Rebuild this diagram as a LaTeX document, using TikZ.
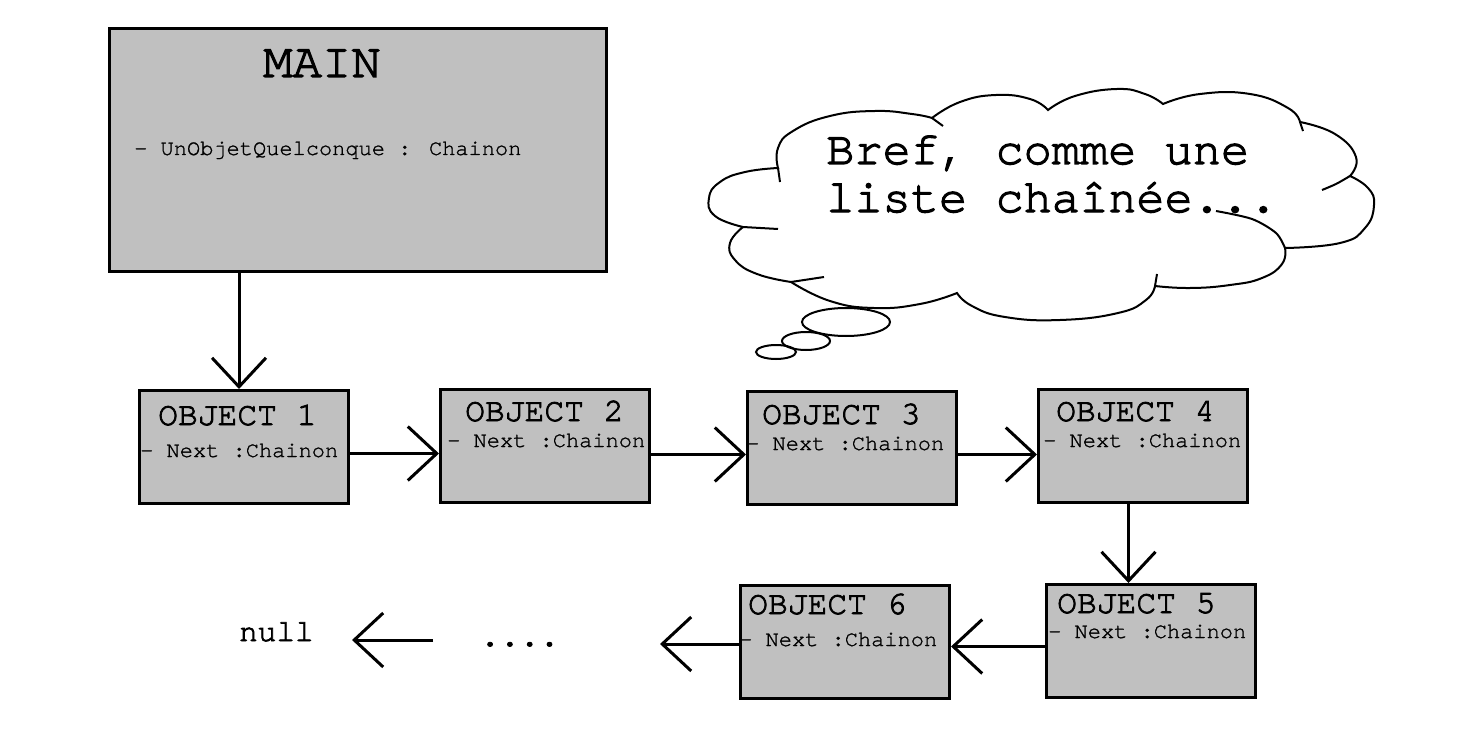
\documentclass[tikz,border=0pt]{standalone}
\usepackage{fontspec}
\newfontfamily\pixfont[FakeBold=1.2]{texgyrecursor-regular.otf}
\newfontfamily\pixbold[FakeBold=2.5]{texgyrecursor-regular.otf}
\usetikzlibrary{arrows.meta}
\definecolor{boxgray}{RGB}{192,192,192}
\tikzset{
  objbox/.style={draw, fill=boxgray, line width=3pt, anchor=north west,
    minimum width=209pt, minimum height=113pt, inner sep=0pt},
  txt/.style={anchor=base west, inner sep=0pt},
  titlefont/.style={font=\pixbold\fontsize{33}{33}\selectfont},
  attrfont/.style={font=\pixfont\fontsize{22}{22}\selectfont},
  link/.style={line width=3pt, -{Straight Barb[length=29pt,width=54pt]}},
  cloudline/.style={line width=2pt}
}

\begin{document}
\begin{tikzpicture}[x=1pt,y=-1pt]
  \useasboundingbox (0,0) rectangle (1477,754);

  % the main class
  \node[objbox, minimum width=497pt, minimum height=243pt] (main) at (108,27) {};
  \node[txt, font=\pixbold\fontsize{49}{49}\selectfont] (main-name)
    at ([shift={(155,50)}]main.north west) {MAIN};
  \node[txt, attrfont] (main-attr)
    at ([shift={(26,128)}]main.north west) {- UnObjetQuelconque : Chainon};

  % the chain
  \foreach \n/\x/\y/\tx/\ty/\nx/\ny in {1/138/389/20/36/2/68, 2/439/388/26/33/8/59,
      3/746/390/16/34/0/60, 4/1037/388/19/33/6/59, 5/1045/583/12/30/3/55,
      6/739/584/9/30/0/62} {
    \node[objbox] (o\n) at (\x,\y) {};
    \node[txt, titlefont] (o\n-name) at ([shift={(\tx,\ty)}]o\n.north west) {OBJECT \n};
    \node[txt, attrfont] (o\n-next) at ([shift={(\nx,\ny)}]o\n.north west) {- Next :Chainon};
  }

  \node[txt, font=\pixbold\fontsize{31}{31}\selectfont] (null) at (239,641) {null};
  \node[txt, titlefont] (dots) at (480,646) {....};
  \coordinate (dots-in) at (660,644);
  \coordinate (dots-out) at (433,640);
  \coordinate (null-in) at (352,640);

  % links
  \coordinate (o1-in) at ([xshift=-5pt]o1.north);
  \draw[link] (o1-in |- main.south) -- (o1-in);
  \draw[link, transform canvas={yshift=-6.5pt}] (o1.east) -- (o1.east -| o2.west);
  \draw[link, transform canvas={yshift=-8.5pt}] (o2.east) -- (o2.east -| o3.west);
  \draw[link, transform canvas={yshift=-6.5pt}] (o3.east) -- (o3.east -| o4.west);
  \draw[link, transform canvas={xshift=-14.5pt}] (o4.south) -- (o4.south |- o5.north);
  \draw[link, transform canvas={yshift=-5.5pt}] (o5.west) -- (o5.west -| o6.east);
  \draw[link] (dots-in -| o6.west) -- (dots-in);
  \draw[link] (dots-out) -- (null-in);

  % thought cloud
  \draw[cloudline, fill=white]
    plot[smooth, tension=0.8] coordinates {(743,227) (715,216) (709,198) (720,182) (745,172) (778,168)}
    -- plot[smooth, tension=0.8] coordinates {(778,168) (778,148) (793,131) (830,116) (875,111) (912,114) (932,118)}
    -- plot[smooth, tension=0.8] coordinates {(932,118) (960,102) (996,95) (1030,99) (1048,110)}
    -- plot[smooth, tension=0.8] coordinates {(1048,110) (1075,96) (1117,89) (1145,94) (1163,104)}
    -- plot[smooth, tension=0.8] coordinates {(1163,104) (1200,94) (1250,94) (1288,108) (1300,122)}
    -- plot[smooth, tension=0.8] coordinates {(1300,122) (1335,134) (1356,157) (1350,176)}
    -- plot[smooth, tension=0.8] coordinates {(1350,176) (1368,188) (1374,205) (1365,228) (1340,243) (1285,248)}
    -- plot[smooth, tension=0.8] coordinates {(1285,248) (1282,264) (1262,278) (1230,285) (1190,288) (1155,286)}
    -- plot[smooth, tension=0.8] coordinates {(1155,286) (1146,300) (1118,313) (1060,320) (1005,317) (972,306) (957,293)}
    -- plot[smooth, tension=0.8] coordinates {(957,293) (920,304) (874,308) (830,301) (791,282)}
    -- plot[smooth, tension=0.8] coordinates {(791,282) (757,274) (735,260) (730,243) (743,227)}
    -- cycle;
  % puff ends that run on inside
  \draw[cloudline] (778,168) -- (780,182);
  \draw[cloudline] (932,118) -- (943,126);
  \draw[cloudline] (1300,122) -- (1303,131);
  \draw[cloudline] plot[smooth] coordinates {(1350,176) (1336,184) (1322,190)};
  \draw[cloudline] plot[smooth] coordinates {(1216,211) (1252,219) (1276,233) (1285,248)};
  \draw[cloudline] (1155,286) -- (1157,274);
  \draw[cloudline] (791,282) -- (824,277);
  \draw[cloudline] (743,227) -- (778,229);
  \draw[cloudline] (846,322) ellipse [x radius=44pt, y radius=14pt];
  \draw[cloudline] (806,341) ellipse [x radius=24pt, y radius=9pt];
  \draw[cloudline] (776,352) ellipse [x radius=20pt, y radius=7pt];
  \node[txt, font=\pixbold\fontsize{47}{47}\selectfont] (thought-1) at (826,164) {Bref, comme une};
  \node[txt, font=\pixbold\fontsize{47}{47}\selectfont] (thought-2) at (826,212) {liste chaînée...};
\end{tikzpicture}
\end{document}
